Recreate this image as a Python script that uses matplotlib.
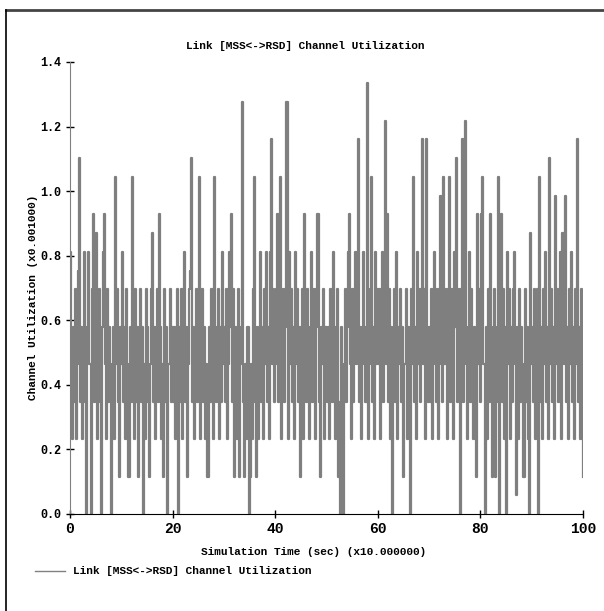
import numpy as np
import matplotlib.pyplot as plt
from matplotlib.lines import Line2D

# utilizacion del canal, en pasos de 0.058 (x0.001), una muestra cada 0.2 unidades de tiempo
step = 0.058
seg0 = [14, 8, 4, 10, 6, 12, 4, 8, 13, 19, 6, 10, 4, 8, 14, 6, 0, 10, 14, 8,
        0, 12, 16, 6, 10, 15, 4, 8, 12, 6, 0, 10, 14, 16, 8, 4, 12, 6, 10, 8,
        0, 6, 10, 4, 18, 8, 12, 6, 2, 10]
seg1 = [8, 14, 6, 10, 4, 12, 8, 2, 10, 6, 18, 8, 4, 12, 6, 10, 2, 8, 12, 6,
        10, 0, 8, 4, 12, 10, 6, 2, 8, 12, 15, 6, 10, 4, 8, 12, 6, 16, 10, 4,
        8, 2, 12, 6, 10, 0, 8, 12, 6, 10]
seg2 = [6, 10, 4, 8, 12, 0, 10, 6, 12, 4, 8, 14, 6, 10, 2, 8, 12, 13, 19, 6,
        10, 4, 8, 12, 6, 10, 18, 4, 8, 12, 6, 10, 4, 8, 2, 10, 6, 12, 8, 4,
        18, 10, 6, 8, 12, 4, 10, 6, 14, 8]
seg3 = [10, 6, 12, 4, 8, 14, 10, 16, 6, 12, 2, 10, 8, 4, 12, 2, 8, 10, 22, 6,
        2, 8, 4, 10, 0, 2, 8, 4, 12, 18, 6, 2, 10, 4, 8, 14, 6, 10, 4, 12,
        8, 14, 6, 10, 4, 14, 20, 8, 12, 6]
seg4 = [8, 12, 16, 6, 10, 18, 4, 8, 12, 6, 10, 22, 4, 14, 8, 12, 6, 10, 4, 14,
        8, 12, 6, 10, 2, 8, 12, 4, 16, 10, 6, 12, 8, 4, 10, 14, 6, 8, 12, 4,
        10, 16, 16, 6, 2, 10, 8, 12, 4, 10]
seg5 = [6, 10, 4, 12, 8, 6, 14, 10, 4, 8, 12, 2, 6, 0, 10, 4, 0, 8, 12, 6,
        10, 14, 16, 8, 4, 12, 6, 10, 14, 8, 12, 20, 6, 10, 4, 8, 14, 10, 6, 23,
        4, 8, 12, 18, 6, 10, 4, 14, 8, 12]
seg6 = [8, 12, 4, 10, 14, 6, 10, 21, 8, 16, 6, 12, 4, 10, 0, 8, 12, 6, 14, 4,
        10, 8, 12, 6, 10, 2, 8, 12, 4, 10, 6, 0, 12, 8, 18, 6, 10, 4, 14, 8,
        12, 6, 10, 20, 8, 12, 4, 20, 10, 6]
seg7 = [10, 6, 12, 4, 8, 14, 10, 6, 12, 4, 8, 17, 10, 6, 18, 8, 12, 4, 10, 18,
        6, 12, 8, 4, 14, 10, 19, 6, 8, 12, 0, 10, 20, 6, 12, 21, 8, 4, 10, 14,
        6, 12, 8, 4, 10, 6, 2, 16, 8, 12]
seg8 = [6, 16, 18, 8, 0, 10, 4, 12, 6, 16, 10, 2, 8, 12, 2, 6, 10, 18, 0, 8,
        16, 6, 12, 4, 10, 0, 14, 8, 12, 4, 10, 6, 12, 14, 8, 1, 10, 4, 12, 6,
        10, 8, 2, 12, 6, 10, 4, 0, 15, 8]
seg9 = [10, 6, 12, 4, 8, 12, 0, 18, 6, 10, 4, 12, 8, 14, 6, 10, 4, 19, 8, 12,
        6, 10, 4, 17, 8, 12, 6, 10, 14, 4, 15, 8, 17, 6, 10, 4, 12, 8, 14, 6,
        10, 4, 12, 8, 20, 6, 10, 4, 12, 8, 2]

niveles = np.array(seg0 + seg1 + seg2 + seg3 + seg4 + seg5 + seg6 + seg7 + seg8 + seg9)
ys = niveles * step
xs = np.arange(len(ys)) * 0.2

titulo = "Link [MSS<->RSD] Channel Utilization"
fuente = "Liberation Mono"
W, H = 604, 611

fig = plt.figure(figsize=(6.04, 6.11), dpi=100)
ax = fig.add_axes([70/W, 1-514/H, 513/W, 452/H])

ax.plot(xs, ys, drawstyle="steps-post", color="#7f7f7f", lw=1.6)

ax.set_xlim(0, 100)
ax.set_ylim(0, 1.4)
ax.set_xticks([0, 20, 40, 60, 80, 100])
ax.set_yticks(np.arange(0, 1.41, 0.2))
ax.set_yticklabels([f"{v:.1f}" for v in np.arange(0, 1.41, 0.2)])
for s in ["top", "right"]:
    ax.spines[s].set_visible(False)
ax.spines["left"].set_color("#808080")
ax.spines["bottom"].set_color("black")
ax.tick_params(direction="inout", length=6, width=1, colors="black", pad=3)
for lab in ax.get_xticklabels():
    lab.set_fontfamily(fuente); lab.set_fontweight("bold"); lab.set_fontsize(10.5)
for lab in ax.get_yticklabels():
    lab.set_fontfamily(fuente); lab.set_fontweight("bold"); lab.set_fontsize(8.5)

txt = dict(fontfamily=fuente, fontweight="bold", fontsize=8)
fig.text(305/W, 1-46/H, titulo, ha="center", va="center", **txt)
fig.text(314/W, 1-552/H, "Simulation Time (sec) (x10.000000)", ha="center", va="center", **txt)
fig.text(33/W, 1-297/H, "Channel Utilization (x0.001000)", ha="center", va="center",
         rotation=90, **txt)

# leyenda
fig.add_artist(Line2D([35/W, 65/W], [1-571/H, 1-571/H], color="#808080", lw=1))
fig.text(73/W, 1-571/H, titulo, va="center", ha="left", **txt)

# marco exterior
fig.add_artist(Line2D([6/W, 1.0], [1-10/H, 1-10/H], color="#444444", lw=2))
fig.add_artist(Line2D([6/W, 6/W], [0, 1-10/H], color="black", lw=1.2))

fig.savefig("out.png", dpi=100)
